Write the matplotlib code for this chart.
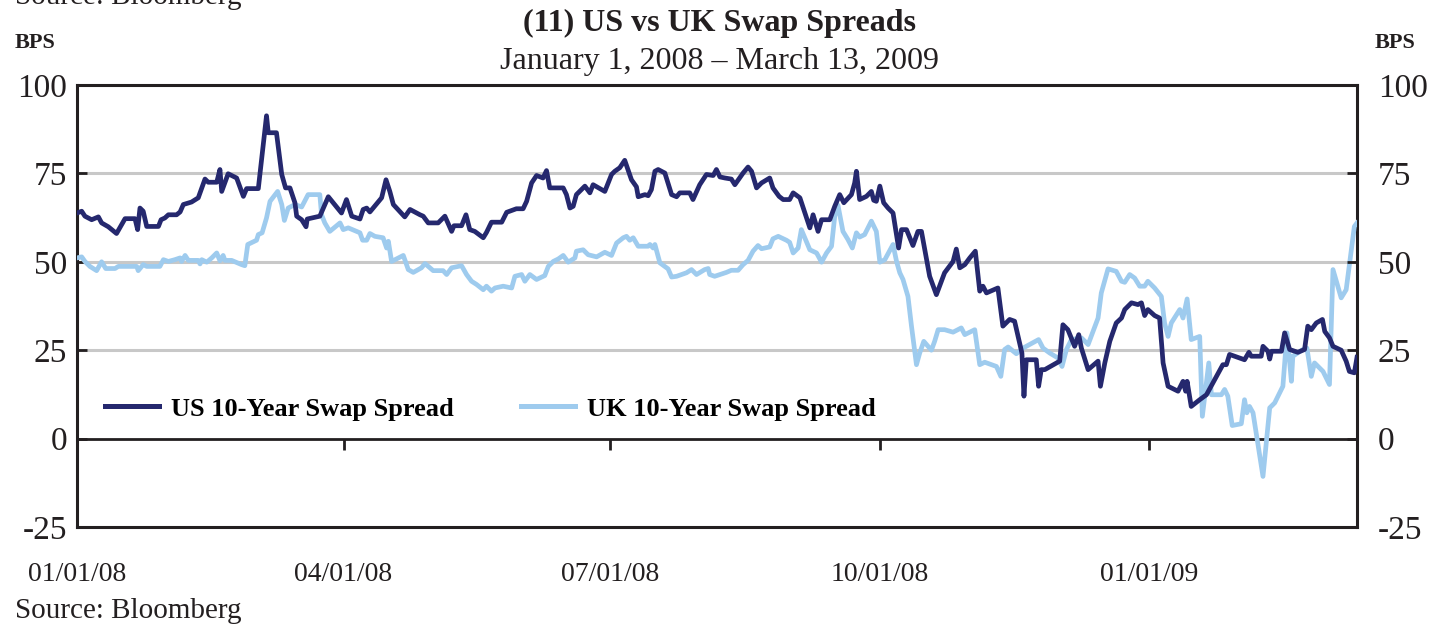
import numpy as np
import pandas as pd
import matplotlib
matplotlib.use("Agg")
import matplotlib.pyplot as plt
import matplotlib.dates as mdates

plt.rcParams['font.family'] = ['Liberation Serif', 'DejaVu Serif']

start = pd.Timestamp('2008-01-01')
end = pd.Timestamp('2009-03-13')

# days since 01/01/08, values in bps
us_days = [0, 1.6, 2.7, 5, 7.3, 8.4, 10.7, 13.5, 16.4, 19.8, 20.7, 21.5, 22.6, 23.8, 27.8, 28.7, 30, 31.2, 34,
           35.2, 36.3, 39.1, 41.4, 43.7, 44.8, 47.7, 48.8, 49.4, 51.6, 54.5, 56.8, 57.9, 61.9, 64.7, 65.3, 68.1,
           69.9, 71.2, 72.7, 74.4, 75, 76.7, 78.2, 78.6, 82.9, 85.8, 90.3, 92, 93.8, 96.6, 97.7, 98.9, 100, 104,
           105.5, 106.8, 108, 111.9, 113.7, 117.1, 118.2, 119.9, 123.3, 125.6, 127.9, 128.7, 131.3, 132.8, 134.1,
           135.8, 138.7, 139.8, 141.5, 145, 146.7, 150, 152.3, 153.5, 155.2, 156.9, 159.1, 160.3, 161.4, 166,
           167.1, 168.3, 169.4, 170.5, 173.4, 175.1, 176.2, 180.2, 182.5, 183.6, 185.3, 187, 189.3, 191, 191.6,
           193.9, 195, 196.1, 197.3, 198.4, 200.7, 203, 204.7, 205.8, 209.2, 210.3, 212.6, 214.9, 217.2, 218.3,
           219.5, 221.2, 223.4, 224.6, 227.4, 229.1, 230.3, 232, 233.7, 236.5, 237.6, 239.7, 241.1, 243.3, 244.5,
           246.8, 250.2, 251.3, 253, 254.2, 257, 258.7, 260.4, 261.8, 264.4, 265.5, 266.1, 267.2, 269.5, 271.2,
           272, 272.9, 274.1, 275.4, 276.9, 278.6, 280.5, 281.5, 283.2, 285.4, 287.1, 288.3, 291.1, 293.4, 296.2,
           299.1, 300.2, 301.4, 303.1, 304.8, 306.7, 308.2, 309.3, 310.5, 314.4, 316.1, 318.4, 320.1, 322.6,
           323.3, 324.1, 327.5, 328.3, 329.2, 330.4, 335.5, 336.6, 338.3, 340.6, 342, 342.9, 345.2, 348.6, 349.4,
           350.9, 352.6, 354.8, 356.6, 357.7, 360, 362.2, 363.4, 364.5, 365.6, 367.9, 369.6, 370.8, 372.5, 375.9,
           377.6, 378.5, 379, 380.4, 383.3, 385.6, 389, 391.2, 392.4, 393.5, 398.6, 400.1, 400.9, 404.3, 404.9,
           406.6, 407.2, 407.8, 411.2, 412.3, 414, 416.8, 419.1, 420.2, 421.4, 423.1, 425.2, 426, 427.6, 428.8,
           431.6, 433.3, 434.4, 436.1, 437]
us_vals = [63.8, 64.3, 62.9, 61.9, 62.7, 61.0, 59.9, 58.0, 62.2, 62.2, 59.1, 65.2, 64.3, 60.0, 60.0, 61.9, 62.4,
           63.3, 63.3, 64.1, 66.2, 66.9, 68.1, 73.4, 72.5, 72.5, 76.1, 69.9, 74.9, 73.7, 68.5, 70.7, 70.7, 91.3,
           86.5, 86.5, 74.7, 70.9, 70.9, 66.7, 62.9, 61.9, 59.9, 62.1, 62.9, 68.4, 63.8, 67.6, 62.9, 62.1, 64.8,
           65.2, 64.1, 68.1, 73.2, 69.9, 66.2, 62.7, 64.8, 63.3, 62.9, 61.0, 61.0, 62.9, 58.6, 60.2, 60.2, 63.3,
           59.1, 58.6, 56.8, 58.3, 61.2, 61.2, 64.0, 65.0, 65.0, 67.1, 72.3, 74.4, 73.7, 75.8, 70.9, 70.9, 69.0,
           65.2, 65.7, 69.0, 71.4, 69.5, 71.8, 69.9, 74.7, 75.6, 76.6, 78.7, 73.2, 71.2, 68.4, 69.0, 68.7, 70.4,
           75.6, 76.1, 75.1, 69.0, 68.4, 69.5, 69.5, 67.6, 71.8, 74.7, 74.4, 76.1, 74.0, 73.7, 73.4, 71.8, 75.1,
           76.8, 75.6, 70.9, 72.3, 73.7, 70.9, 68.5, 67.6, 67.6, 69.5, 68.1, 59.6, 63.3, 58.6, 61.9, 61.9, 65.7,
           69.0, 66.7, 69.0, 72.3, 75.6, 67.6, 68.5, 69.9, 67.4, 67.1, 71.4, 66.7, 65.2, 63.8, 53.9, 59.1, 59.1,
           54.6, 58.6, 58.6, 45.9, 40.7, 46.9, 50.1, 53.6, 48.3, 49.2, 51.1, 53.0, 41.7, 43.1, 41.2, 42.6, 31.8,
           33.7, 33.2, 24.2, 12.0, 22.3, 22.3, 14.8, 19.5, 19.5, 21.9, 32.2, 30.8, 26.1, 29.4, 25.6, 19.5, 21.9,
           14.8, 21.4, 27.5, 32.7, 34.1, 36.5, 38.4, 37.9, 38.4, 34.8, 36.5, 34.8, 34.1, 21.4, 14.8, 13.4, 16.2,
           13.4, 16.2, 9.1, 11.0, 12.4, 17.6, 20.9, 20.9, 23.8, 22.3, 24.4, 23.3, 23.3, 26.1, 24.7, 22.5, 24.7,
           24.7, 29.9, 25.2, 24.4, 25.2, 31.8, 30.8, 32.7, 33.7, 30.3, 28.5, 26.1, 25.0, 21.9, 19.0, 18.6, 23.0]

uk_days = [0, 1.6, 2.7, 4.4, 6.7, 8.4, 9.8, 13, 14.1, 20.4, 20.9, 22.6, 23.8, 28.3, 29.5, 31.2, 33.4, 35.2, 35.7,
           36.9, 38, 41.4, 42, 42.6, 44.3, 46, 47.7, 48.8, 49.9, 50.5, 52.8, 56.2, 57.3, 58.3, 61.3, 61.9, 63.2,
           64.7, 65.9, 68.5, 69.9, 70.8, 72.1, 74.4, 76.7, 78.9, 82.9, 83.5, 84.6, 86.3, 89.8, 90.9, 92.6, 96.6,
           97.5, 98.9, 100, 101.7, 104.5, 105.7, 106.3, 107.4, 111.4, 113.1, 114.8, 117.6, 118.8, 121.6, 125,
           126.2, 127.9, 131.3, 133, 134.7, 136.4, 138.7, 139.8, 141.5, 142.7, 145.5, 148.4, 149.5, 151.8, 152.9,
           154.6, 156.9, 159.7, 160.9, 162.6, 164.3, 166, 167.7, 170, 170.5, 172.8, 174.5, 177.4, 180.2, 182.5,
           184.2, 186.5, 187.6, 188.7, 189.9, 191.6, 195, 195.6, 196.7, 197.3, 199, 201.8, 203, 204.7, 208.1,
           209.8, 211.5, 214.3, 215.5, 216, 217.7, 219.5, 221.7, 223.4, 225.7, 227.4, 229.1, 230.8, 232.5, 233.7,
           236.5, 237.6, 239.4, 242.2, 243.3, 244.5, 246.2, 247.3, 249, 250.2, 252.5, 254.2, 255.9, 257.6, 258.7,
           259.8, 261.5, 263.2, 264.7, 266.1, 267.2, 268.9, 271.2, 272.9, 274.1, 275.8, 278.6, 279.8, 280.9, 282,
           283.7, 284.9, 286.6, 287.7, 289.1, 291.7, 292.8, 294, 296.2, 299.1, 301.9, 303.1, 306.5, 308.2, 309.9,
           313.9, 315.4, 316.7, 317.9, 320.7, 323, 328.3, 329.8, 332.1, 334.9, 336.3, 337.8, 339.5, 342.9, 345.2,
           348.6, 349.7, 352, 354.8, 356.6, 357.7, 359.4, 361.1, 362.8, 364.5, 365.6, 367.9, 370.2, 371.3, 372.5,
           373.6, 376.5, 377.6, 379, 380.4, 383.3, 384.2, 386.4, 387.3, 390.7, 391.8, 392.9, 394.4, 397.5, 398.6,
           399.4, 400.3, 401.5, 404.9, 407.2, 408.9, 411.7, 413.1, 414.6, 415.1, 418.5, 419.9, 421.4, 422.5,
           425.4, 427.6, 428.8, 431.6, 433.3, 436.1, 437]
uk_vals = [51.1, 51.4, 50.1, 48.7, 47.5, 50.0, 48.1, 48.1, 48.7, 48.7, 47.5, 49.2, 48.7, 48.7, 50.6, 50.1, 50.6,
           51.1, 50.1, 51.8, 50.4, 50.4, 49.4, 50.6, 49.9, 51.1, 52.5, 50.3, 51.8, 50.4, 50.4, 49.2, 48.9, 54.9,
           56.1, 57.7, 58.2, 62.4, 67.1, 69.9, 66.2, 61.7, 65.2, 66.2, 65.5, 69.0, 69.0, 63.3, 61.0, 58.6, 61.0,
           59.1, 59.6, 58.2, 56.1, 56.1, 58.0, 57.2, 56.8, 53.9, 55.8, 50.1, 51.8, 47.8, 47.0, 48.3, 49.5, 47.5,
           47.5, 46.4, 48.3, 48.9, 46.4, 44.5, 43.6, 42.1, 43.1, 41.7, 42.6, 43.1, 42.6, 45.9, 46.4, 44.5, 46.4,
           45.0, 46.1, 48.7, 50.1, 50.8, 51.8, 49.9, 51.1, 53.0, 53.4, 52.0, 51.4, 52.7, 51.8, 55.3, 56.8, 57.2,
           56.1, 56.8, 54.4, 54.4, 54.9, 53.9, 54.9, 49.7, 48.0, 45.7, 45.9, 46.9, 47.8, 46.4, 47.8, 48.1, 46.4,
           45.9, 46.4, 47.0, 47.6, 47.6, 49.2, 50.4, 53.0, 54.6, 53.7, 54.2, 56.5, 57.2, 56.1, 55.5, 52.5, 53.9,
           59.1, 55.8, 53.4, 52.5, 49.9, 52.5, 54.4, 62.9, 66.0, 58.6, 56.3, 53.9, 58.2, 57.0, 57.7, 61.5, 58.6,
           49.9, 50.6, 54.9, 50.1, 46.9, 45.0, 40.2, 31.8, 20.9, 24.2, 27.5, 25.0, 27.5, 30.8, 30.8, 30.1, 31.3,
           29.4, 30.8, 20.9, 21.6, 20.4, 17.6, 25.2, 25.9, 24.0, 25.6, 28.0, 25.6, 24.2, 22.8, 20.4, 25.2, 28.0,
           28.5, 26.6, 34.1, 41.2, 48.0, 47.3, 44.5, 44.2, 46.4, 45.4, 43.1, 43.1, 44.5, 42.6, 40.2, 32.7, 28.9,
           32.7, 36.5, 34.1, 39.5, 28.0, 28.9, 6.3, 21.4, 12.4, 12.4, 13.9, 12.0, 3.7, 4.2, 11.0, 7.3, 9.1, 7.3,
           -10.7, 8.7, 10.1, 14.8, 29.9, 16.2, 23.3, 25.2, 25.6, 17.6, 21.4, 19.0, 15.3, 47.8, 39.8, 42.1, 60.0,
           61.0]

y_ticks = [-25, 0, 25, 50, 75, 100]
x_ticks = ['2008-01-01', '2008-04-01', '2008-07-01', '2008-10-01', '2009-01-01']
x_labels = ['01/01/08', '04/01/08', '07/01/08', '10/01/08', '01/01/09']

us_dates = start + pd.to_timedelta(us_days, unit='D')
uk_dates = start + pd.to_timedelta(uk_days, unit='D')
tick_dates = pd.to_datetime(x_ticks)

navy = '#25286e'
light = '#9ecbee'
frame = '#231f20'

fig = plt.figure(figsize=(14.39, 6.26), dpi=100)
ax = fig.add_axes([77/1439, 1-527/626, 1280/1439, 442/626])

ax.plot(uk_dates, uk_vals, color=light, lw=3.4, label='UK 10-Year Swap Spread', zorder=3)
ax.plot(us_dates, us_vals, color=navy, lw=3.4, label='US 10-Year Swap Spread', zorder=4)

ax.set_xlim(start, end)
ax.set_ylim(-25, 100)
ax.set_yticks(y_ticks)
ax.set_yticklabels([str(v) for v in y_ticks])
for v in [25, 50, 75]:
    ax.axhline(v, color='#c8c8c8', lw=2.2, zorder=1)

for s in ax.spines.values():
    s.set_color(frame)
    s.set_linewidth(2.2)

ax.set_xticks(tick_dates)
ax.set_xticklabels(x_labels)
ax.tick_params(axis='x', length=0, pad=25, labelsize=20, colors=frame)
ax.tick_params(axis='y', direction='in', length=7, width=2, pad=7, labelsize=24, colors=frame)

# zero line with quarter ticks
zero = ax.secondary_xaxis(0.2)
zero.spines['bottom'].set_color(frame)
zero.spines['bottom'].set_linewidth(2)
zero.set_xticks(tick_dates[1:])
zero.tick_params(axis='x', direction='out', length=8, width=2, labelbottom=False, colors=frame)

ax_r = ax.twinx()
ax_r.set_ylim(-25, 100)
ax_r.set_yticks(y_ticks)
ax_r.set_yticklabels([str(v) for v in y_ticks])
ax_r.tick_params(axis='y', direction='in', length=7, width=2, pad=15, labelsize=24, colors=frame)
for s in ax_r.spines.values():
    s.set_visible(False)

h, l = ax.get_legend_handles_labels()
leg = ax.legend(h[::-1], l[::-1], loc='center left', bbox_to_anchor=(0.022, 0.267), ncol=2, frameon=False,
                prop={'weight': 'bold', 'size': 19}, handlelength=2.05, handletextpad=0.45, columnspacing=2.55,
                borderpad=0, borderaxespad=0)
for line in leg.get_lines():
    line.set_linewidth(3.6)

fig.text(0.5, 1-31/626, '(11) US vs UK Swap Spreads', ha='center', va='baseline', fontsize=23,
         fontweight='bold', color=frame)
fig.text(0.5, 1-69/626, 'January 1, 2008 \u2013 March 13, 2009', ha='center', va='baseline', fontsize=23,
         color=frame)
fig.text(15/1439, 1-48/626, 'BPS', ha='left', va='baseline', fontsize=16, fontweight='bold', color=frame)
fig.text(1375/1439, 1-48/626, 'BPS', ha='left', va='baseline', fontsize=16, fontweight='bold', color=frame)
fig.text(15/1439, 1-618/626, 'Source: Bloomberg', ha='left', va='baseline', fontsize=21, color=frame)
fig.text(15/1439, 1-4/626, 'Source: Bloomberg', ha='left', va='baseline', fontsize=21, color=frame)

fig.savefig('out.png', dpi=100)
